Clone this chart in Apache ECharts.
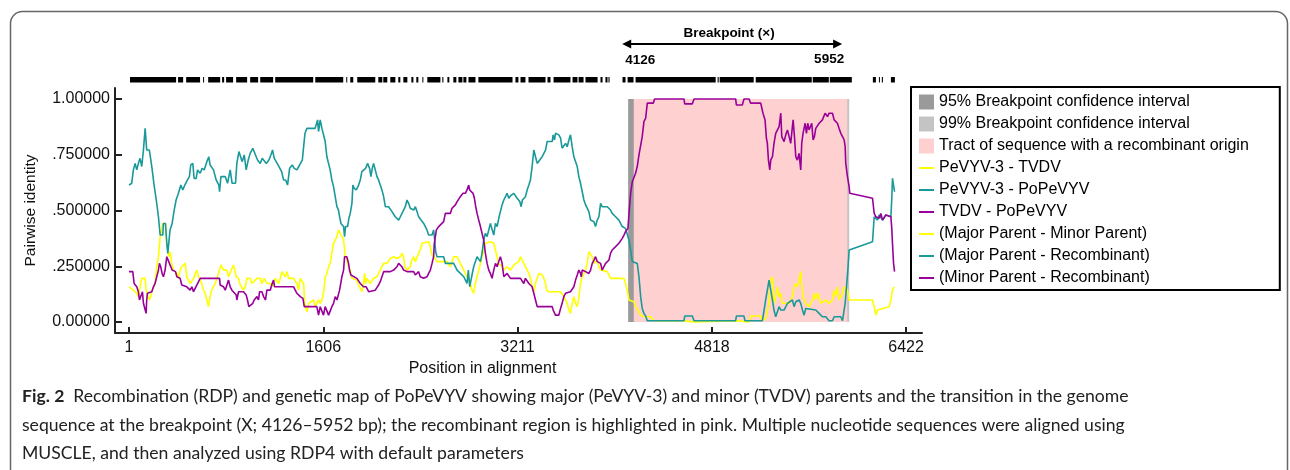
<!DOCTYPE html>
<html>
<head>
<meta charset="utf-8">
<script src="https://cdn.jsdelivr.net/npm/echarts@6/dist/echarts.min.js"></script>
<style>
  html, body { margin: 0; padding: 0; background: #fff; }
  #chart { width: 1290px; height: 470px; }
</style>
</head>
<body>
<div id="chart"></div>
<script>
// pairwise identity along the alignment, [position, identity]
var majorMinor = [[1,0.158],[37,0.143],[65,0.129],[78,0.114],[92,0.158],[106,0.196],[134,0.196],[142,0.143],[153,0.136],[169,0.099],[180,0.114],[192,0.143],[203,0.158],[216,0.173],[230,0.248],[244,0.293],[258,0.383],[271,0.390],[280,0.442],[291,0.450],[302,0.442],[313,0.353],[329,0.293],[340,0.315],[354,0.263],[368,0.233],[382,0.233],[396,0.218],[409,0.196],[423,0.233],[437,0.248],[465,0.263],[478,0.203],[492,0.203],[506,0.173],[520,0.173],[534,0.196],[547,0.196],[561,0.233],[575,0.203],[589,0.196],[602,0.173],[616,0.143],[630,0.129],[644,0.099],[658,0.069],[671,0.114],[685,0.143],[699,0.143],[713,0.173],[727,0.196],[740,0.218],[749,0.233],[760,0.256],[782,0.233],[809,0.233],[823,0.203],[837,0.203],[864,0.256],[878,0.256],[887,0.203],[906,0.196],[920,0.166],[947,0.143],[961,0.158],[975,0.196],[1002,0.196],[1016,0.173],[1030,0.173],[1058,0.196],[1085,0.196],[1099,0.173],[1118,0.196],[1140,0.173],[1168,0.173],[1182,0.158],[1195,0.173],[1209,0.196],[1237,0.173],[1251,0.196],[1264,0.226],[1278,0.226],[1292,0.203],[1306,0.226],[1320,0.196],[1361,0.196],[1388,0.173],[1402,0.143],[1416,0.196],[1444,0.173],[1452,0.084],[1471,0.046],[1485,0.084],[1526,0.099],[1539,0.069],[1553,0.069],[1567,0.099],[1581,0.084],[1595,0.099],[1608,0.129],[1614,0.158],[1622,0.203],[1636,0.218],[1650,0.248],[1663,0.263],[1677,0.308],[1691,0.353],[1705,0.360],[1719,0.383],[1732,0.413],[1746,0.398],[1760,0.383],[1774,0.368],[1788,0.293],[1801,0.278],[1815,0.248],[1829,0.233],[1843,0.196],[1884,0.188],[1898,0.166],[1912,0.151],[1925,0.136],[1939,0.173],[1948,0.218],[1956,0.173],[1967,0.196],[1981,0.196],[1994,0.173],[2008,0.166],[2022,0.196],[2036,0.188],[2050,0.203],[2063,0.211],[2077,0.233],[2091,0.248],[2105,0.263],[2132,0.263],[2160,0.285],[2188,0.293],[2215,0.285],[2243,0.293],[2256,0.308],[2270,0.293],[2279,0.248],[2298,0.233],[2312,0.233],[2325,0.248],[2339,0.278],[2353,0.293],[2367,0.271],[2381,0.278],[2394,0.308],[2408,0.323],[2422,0.353],[2436,0.360],[2477,0.360],[2491,0.338],[2505,0.300],[2532,0.285],[2546,0.271],[2629,0.271],[2656,0.248],[2684,0.293],[2712,0.293],[2739,0.263],[2767,0.233],[2794,0.203],[2822,0.173],[2836,0.143],[2849,0.129],[2863,0.173],[2877,0.203],[2891,0.233],[2905,0.263],[2918,0.293],[2932,0.315],[2946,0.353],[2960,0.360],[2987,0.360],[3015,0.353],[3029,0.323],[3043,0.293],[3056,0.263],[3084,0.248],[3098,0.233],[3125,0.248],[3153,0.233],[3167,0.233],[3181,0.256],[3222,0.271],[3236,0.293],[3250,0.285],[3263,0.263],[3291,0.233],[3305,0.218],[3318,0.196],[3332,0.158],[3346,0.136],[3360,0.173],[3374,0.196],[3387,0.218],[3401,0.226],[3415,0.211],[3429,0.196],[3443,0.173],[3451,0.143],[3470,0.136],[3567,0.136],[3580,0.129],[3594,0.114],[3608,0.099],[3622,0.084],[3636,0.054],[3649,0.039],[3663,0.084],[3677,0.114],[3691,0.084],[3705,0.069],[3718,0.106],[3732,0.173],[3746,0.203],[3760,0.218],[3774,0.233],[3787,0.263],[3801,0.315],[3815,0.323],[3829,0.293],[3843,0.263],[3856,0.271],[3870,0.278],[3884,0.248],[3898,0.233],[3953,0.226],[3980,0.196],[4091,0.196],[4104,0.173],[4118,0.143],[4132,0.099],[4173,0.091],[4187,0.069],[4201,0.061],[4215,0.046],[4229,0.031],[4256,0.024],[4311,0.024],[4339,0.006],[4587,0.006],[4601,0.001],[4656,0.001],[4670,0.006],[5028,0.006],[5042,0.001],[5125,0.001],[5138,0.027],[5221,0.027],[5235,0.006],[5262,0.016],[5290,0.084],[5304,0.188],[5318,0.203],[5331,0.084],[5345,0.114],[5359,0.158],[5373,0.114],[5387,0.129],[5400,0.084],[5456,0.084],[5483,0.114],[5497,0.158],[5511,0.173],[5524,0.158],[5538,0.188],[5552,0.226],[5560,0.173],[5571,0.114],[5593,0.084],[5621,0.069],[5648,0.099],[5662,0.129],[5676,0.099],[5690,0.129],[5704,0.114],[5717,0.084],[5731,0.084],[5759,0.099],[5786,0.084],[5814,0.099],[5828,0.143],[5842,0.114],[5855,0.158],[5869,0.099],[5897,0.129],[5911,0.158],[5938,0.143],[5952,0.099],[6145,0.099],[6159,0.069],[6173,0.031],[6186,0.054],[6283,0.069],[6297,0.099],[6310,0.143],[6324,0.158]];

var majorRecomb = [[1,0.614],[23,0.622],[37,0.682],[51,0.711],[65,0.682],[78,0.711],[92,0.734],[106,0.697],[120,0.771],[134,0.868],[142,0.868],[147,0.771],[169,0.771],[189,0.697],[208,0.614],[230,0.532],[244,0.472],[258,0.390],[280,0.390],[285,0.442],[302,0.442],[313,0.353],[321,0.308],[329,0.353],[340,0.413],[357,0.442],[374,0.502],[390,0.547],[409,0.577],[429,0.614],[445,0.592],[462,0.614],[484,0.637],[500,0.652],[511,0.704],[528,0.711],[539,0.644],[556,0.644],[567,0.682],[589,0.667],[605,0.689],[622,0.682],[644,0.719],[660,0.741],[671,0.704],[699,0.682],[721,0.637],[743,0.614],[749,0.584],[760,0.652],[796,0.652],[815,0.622],[837,0.682],[853,0.622],[881,0.622],[892,0.711],[909,0.764],[925,0.771],[936,0.719],[953,0.749],[969,0.682],[986,0.726],[1002,0.756],[1024,0.779],[1046,0.749],[1063,0.726],[1085,0.711],[1102,0.734],[1118,0.741],[1135,0.711],[1157,0.726],[1173,0.749],[1187,0.771],[1201,0.734],[1217,0.719],[1240,0.697],[1262,0.674],[1278,0.637],[1295,0.637],[1311,0.614],[1328,0.689],[1350,0.704],[1366,0.689],[1388,0.682],[1411,0.704],[1433,0.726],[1444,0.786],[1455,0.846],[1471,0.868],[1539,0.868],[1559,0.906],[1567,0.854],[1581,0.906],[1595,0.868],[1608,0.861],[1622,0.809],[1636,0.741],[1650,0.734],[1663,0.682],[1677,0.637],[1691,0.607],[1705,0.562],[1719,0.517],[1732,0.502],[1741,0.472],[1752,0.442],[1760,0.450],[1774,0.428],[1782,0.383],[1790,0.428],[1807,0.428],[1818,0.465],[1829,0.487],[1843,0.532],[1851,0.614],[1862,0.599],[1879,0.592],[1898,0.614],[1912,0.637],[1925,0.674],[1939,0.682],[1956,0.689],[1972,0.711],[1989,0.689],[2000,0.652],[2011,0.689],[2022,0.711],[2036,0.682],[2050,0.652],[2063,0.637],[2077,0.614],[2091,0.592],[2105,0.562],[2119,0.517],[2146,0.517],[2174,0.495],[2201,0.472],[2229,0.457],[2243,0.472],[2270,0.502],[2284,0.517],[2298,0.547],[2312,0.532],[2325,0.510],[2339,0.517],[2353,0.502],[2367,0.517],[2381,0.495],[2394,0.472],[2408,0.465],[2436,0.442],[2463,0.413],[2477,0.390],[2505,0.390],[2518,0.413],[2527,0.368],[2535,0.315],[2546,0.293],[2601,0.293],[2615,0.263],[2684,0.263],[2712,0.233],[2767,0.203],[2794,0.173],[2805,0.233],[2816,0.158],[2827,0.188],[2849,0.248],[2877,0.293],[2891,0.293],[2905,0.271],[2918,0.308],[2932,0.368],[2946,0.398],[2960,0.383],[2974,0.383],[2987,0.442],[3001,0.450],[3015,0.390],[3029,0.442],[3043,0.428],[3059,0.472],[3070,0.472],[3084,0.525],[3098,0.547],[3111,0.555],[3125,0.577],[3139,0.555],[3153,0.565],[3167,0.562],[3181,0.577],[3208,0.555],[3230,0.540],[3241,0.517],[3252,0.547],[3277,0.562],[3291,0.592],[3305,0.614],[3318,0.637],[3332,0.697],[3346,0.771],[3360,0.741],[3374,0.711],[3387,0.711],[3415,0.741],[3429,0.756],[3443,0.771],[3456,0.809],[3498,0.809],[3506,0.839],[3517,0.816],[3525,0.846],[3553,0.839],[3567,0.824],[3580,0.779],[3594,0.779],[3608,0.801],[3622,0.786],[3636,0.816],[3649,0.839],[3663,0.786],[3677,0.741],[3691,0.741],[3705,0.697],[3718,0.652],[3732,0.622],[3746,0.614],[3760,0.547],[3774,0.525],[3787,0.517],[3801,0.495],[3815,0.457],[3843,0.450],[3856,0.428],[3870,0.457],[3884,0.472],[3898,0.532],[3911,0.517],[3953,0.517],[3980,0.502],[3994,0.487],[4022,0.472],[4049,0.457],[4077,0.428],[4104,0.420],[4118,0.413],[4132,0.368],[4146,0.323],[4160,0.271],[4173,0.263],[4201,0.263],[4215,0.203],[4229,0.114],[4242,0.061],[4256,0.039],[4270,0.027],[4284,0.006],[4587,0.006],[4593,0.027],[4656,0.027],[4670,0.006],[5014,0.006],[5020,0.027],[5083,0.027],[5091,0.006],[5235,0.006],[5249,0.054],[5262,0.099],[5276,0.143],[5290,0.188],[5304,0.143],[5318,0.099],[5331,0.054],[5345,0.024],[5359,0.024],[5373,0.069],[5387,0.054],[5414,0.054],[5442,0.084],[5456,0.091],[5483,0.099],[5497,0.069],[5511,0.091],[5538,0.099],[5552,0.084],[5566,0.054],[5580,0.031],[5593,0.061],[5676,0.054],[5704,0.039],[5731,0.024],[5759,0.024],[5786,0.006],[5814,0.006],[5828,0.024],[5883,0.024],[5897,0.006],[5911,0.006],[5919,0.084],[5930,0.158],[5941,0.233],[5952,0.323],[5966,0.330],[6145,0.360],[6159,0.472],[6186,0.457],[6200,0.480],[6228,0.457],[6255,0.480],[6297,0.472],[6305,0.562],[6310,0.644],[6319,0.614],[6327,0.584]];

var minorRecomb = [[1,0.226],[32,0.226],[43,0.173],[65,0.158],[78,0.136],[87,0.099],[98,0.099],[112,0.136],[120,0.084],[134,0.076],[142,0.039],[147,0.099],[153,0.129],[169,0.129],[189,0.136],[203,0.158],[216,0.173],[230,0.203],[244,0.233],[252,0.263],[263,0.248],[274,0.218],[285,0.203],[299,0.233],[313,0.293],[327,0.285],[335,0.263],[346,0.263],[357,0.233],[385,0.226],[396,0.203],[423,0.196],[437,0.166],[451,0.158],[478,0.158],[506,0.143],[520,0.158],[534,0.136],[547,0.136],[561,0.166],[575,0.158],[589,0.196],[749,0.196],[754,0.166],[782,0.158],[796,0.143],[809,0.151],[823,0.188],[837,0.158],[851,0.143],[864,0.136],[887,0.121],[892,0.099],[906,0.136],[947,0.136],[969,0.121],[980,0.099],[991,0.069],[1002,0.069],[1024,0.084],[1035,0.099],[1058,0.114],[1071,0.099],[1080,0.136],[1099,0.136],[1113,0.114],[1129,0.099],[1140,0.143],[1168,0.143],[1184,0.173],[1195,0.188],[1204,0.158],[1361,0.158],[1388,0.129],[1416,0.114],[1438,0.106],[1449,0.069],[1553,0.069],[1567,0.031],[1581,0.069],[1595,0.069],[1608,0.031],[1622,0.069],[1636,0.069],[1650,0.031],[1663,0.031],[1677,0.069],[1691,0.084],[1705,0.114],[1719,0.099],[1732,0.099],[1741,0.143],[1760,0.203],[1774,0.233],[1782,0.293],[1801,0.293],[1815,0.263],[1823,0.233],[1834,0.211],[1884,0.196],[1912,0.173],[1939,0.158],[1961,0.158],[1981,0.136],[2036,0.143],[2050,0.151],[2063,0.166],[2077,0.181],[2105,0.226],[2160,0.226],[2188,0.233],[2215,0.248],[2229,0.263],[2243,0.263],[2256,0.248],[2270,0.233],[2298,0.226],[2353,0.226],[2367,0.211],[2381,0.203],[2394,0.226],[2408,0.203],[2436,0.196],[2463,0.203],[2477,0.218],[2491,0.233],[2505,0.263],[2518,0.293],[2524,0.353],[2541,0.413],[2560,0.428],[2601,0.450],[2615,0.487],[2656,0.487],[2670,0.510],[2698,0.525],[2712,0.540],[2739,0.562],[2761,0.577],[2780,0.577],[2794,0.592],[2808,0.614],[2816,0.592],[2822,0.584],[2844,0.577],[2855,0.555],[2866,0.517],[2877,0.487],[2891,0.457],[2905,0.428],[2918,0.398],[2932,0.368],[2946,0.308],[2960,0.263],[2974,0.233],[2987,0.218],[3001,0.196],[3015,0.233],[3029,0.263],[3043,0.248],[3056,0.271],[3070,0.293],[3084,0.263],[3098,0.203],[3111,0.203],[3125,0.218],[3153,0.196],[3236,0.196],[3250,0.188],[3263,0.173],[3277,0.196],[3291,0.196],[3305,0.173],[3318,0.166],[3332,0.158],[3346,0.129],[3360,0.099],[3374,0.069],[3498,0.069],[3506,0.054],[3525,0.031],[3553,0.031],[3567,0.061],[3580,0.084],[3594,0.114],[3608,0.129],[3649,0.136],[3663,0.143],[3677,0.158],[3691,0.188],[3705,0.211],[3718,0.233],[3732,0.218],[3738,0.203],[3746,0.233],[3774,0.226],[3787,0.233],[3801,0.218],[3815,0.233],[3829,0.263],[3843,0.278],[3856,0.293],[3870,0.271],[3884,0.263],[3898,0.263],[3911,0.233],[3939,0.263],[3953,0.263],[3967,0.278],[3980,0.308],[3994,0.323],[4022,0.338],[4049,0.353],[4077,0.375],[4091,0.390],[4104,0.405],[4124,0.420],[4135,0.502],[4146,0.577],[4160,0.629],[4187,0.667],[4201,0.697],[4215,0.749],[4242,0.831],[4256,0.898],[4270,0.913],[4284,0.981],[4333,0.981],[4344,1.0],[4587,1.0],[4593,0.978],[4656,0.978],[4670,1.0],[5014,1.0],[5020,0.973],[5069,0.973],[5083,1.0],[5125,1.0],[5138,0.981],[5221,0.981],[5240,0.936],[5257,0.906],[5268,0.824],[5276,0.801],[5285,0.726],[5296,0.682],[5304,0.726],[5318,0.741],[5331,0.801],[5345,0.846],[5359,0.854],[5373,0.876],[5387,0.936],[5395,0.831],[5414,0.809],[5428,0.839],[5442,0.861],[5456,0.831],[5469,0.801],[5483,0.876],[5489,0.906],[5500,0.831],[5511,0.741],[5524,0.726],[5538,0.756],[5552,0.682],[5560,0.801],[5571,0.846],[5588,0.891],[5599,0.846],[5610,0.891],[5621,0.861],[5643,0.891],[5654,0.816],[5665,0.831],[5676,0.868],[5704,0.891],[5731,0.906],[5753,0.936],[5773,0.921],[5786,0.936],[5814,0.936],[5828,0.906],[5855,0.891],[5869,0.868],[5883,0.846],[5897,0.831],[5911,0.816],[5919,0.786],[5924,0.711],[5938,0.652],[5952,0.607],[5957,0.577],[6145,0.555],[6159,0.487],[6173,0.472],[6200,0.465],[6214,0.487],[6228,0.457],[6255,0.480],[6297,0.472],[6305,0.413],[6310,0.353],[6319,0.263],[6327,0.226]];

// shaded intervals, [start, end]
var ci95 = [[4126, 4172]];
var ci99 = [[5936, 5952]];
var tract = [[4126, 5952]];
var breakpoint = [[4126, 5952]];

// black site map above the plot, [start, end]
var siteBlocks = [[9,390],[406,448],[473,588],[613,621],[655,754],[770,787],[803,861],[886,977],[1002,1068],[1085,1192],[1209,1523],[1540,1771],[1796,1804],[1829,1854],[1887,2036],[2061,2094],[2102,2135],[2160,2202],[2226,2243],[2268,2301],[2334,2351],[2375,2392],[2425,2433],[2466,2574],[2590,2599],[2632,2648],[2681,2706],[2723,2756],[2764,2789],[2806,2864],[2888,3170],[3194,3219],[3236,3277],[3302,3443],[3459,3484],[3509,3649],[3666,3707],[3716,3757],[3773,3873],[3897,3914],[3938,3955],[3963,3972],[4079,4104],[4121,4170],[4187,4849],[4865,4874],[4882,5163],[5180,5643],[5651,5784],[5792,5974],[6148,6173],[6198,6206],[6222,6231],[6297,6330]];

var xTicks = [1, 1606, 3211, 4818, 6422];
var yTicks = [0, 0.25, 0.5, 0.75, 1];
var yTickLabels = ['0.00000', '.250000', '.500000', '.750000', '1.00000'];

var captionLines = [
  'Recombination (RDP) and genetic map of PoPeVYV showing major (PeVYV-3) and minor (TVDV) parents and the transition in the genome',
  'sequence at the breakpoint (X; 4126\u20135952 bp); the recombinant region is highlighted in pink. Multiple nucleotide sequences were aligned using',
  'MUSCLE, and then analyzed using RDP4 with default parameters'
];

var YELLOW = '#ffff00', TEAL = '#199999', PURPLE = '#990099';
var FONT = 'Liberation Sans, Arial, sans-serif';
var CAP_FONT = 'Lato, Noto Sans, sans-serif';

function bandItem(color) {
  return function (params, api) {
    var a = api.coord([api.value(0), 1]);
    var b = api.coord([api.value(1), 0]);
    return { type: 'rect', shape: { x: a[0], y: a[1], width: b[0] - a[0], height: b[1] - a[1] }, style: { fill: color } };
  };
}

function blockItem(params, api) {
  var top = params.coordSys.y;
  var a = api.coord([api.value(0), 0]);
  var b = api.coord([api.value(1), 0]);
  return { type: 'rect', shape: { x: a[0], y: top - 11, width: Math.max(b[0] - a[0], 1), height: 5.5 }, style: { fill: '#000' } };
}

function arrowItem(params, api) {
  var top = params.coordSys.y;
  var x0 = api.coord([api.value(0), 0])[0];
  var x1 = api.coord([api.value(1), 0])[0];
  var l = x0 - 6, r = x1 - 7, y = top - 44;
  return {
    type: 'group',
    children: [
      { type: 'line', shape: { x1: l + 4, y1: y, x2: r - 4, y2: y }, style: { stroke: '#000', lineWidth: 2 } },
      { type: 'polygon', shape: { points: [[l, y], [l + 9, y - 4.5], [l + 9, y + 4.5]] }, style: { fill: '#000' } },
      { type: 'polygon', shape: { points: [[r, y], [r - 9, y - 4.5], [r - 9, y + 4.5]] }, style: { fill: '#000' } },
      { type: 'text', x: (l + r) / 2 - 3, y: top - 55, style: { text: 'Breakpoint (\u00d7)', font: 'bold 13.5px ' + FONT, fill: '#000', align: 'center', verticalAlign: 'middle' } },
      { type: 'text', x: l + 3, y: top - 28, style: { text: String(api.value(0)), font: 'bold 13.5px ' + FONT, fill: '#000', align: 'left', verticalAlign: 'middle' } },
      { type: 'text', x: r + 2, y: top - 29, style: { text: String(api.value(1)), font: 'bold 13.5px ' + FONT, fill: '#000', align: 'right', verticalAlign: 'middle' } }
    ]
  };
}

function lineSeries(name, color, data) {
  return {
    name: name, type: 'line', data: data, showSymbol: false, symbol: 'none',
    lineStyle: { color: color, width: 1.6 }, itemStyle: { color: color },
    z: 3, silent: true
  };
}

// legend entry for a line: plain stroke, no marker
function lineKey(name) {
  return { name: name, itemStyle: { opacity: 0 }, lineStyle: { width: 2 } };
}

var chart = echarts.init(document.getElementById('chart'));
var option = {
  animation: false,
  backgroundColor: '#fff',
  grid: { left: 115, top: 88, width: 807, height: 245 },
  xAxis: {
    type: 'value', min: -115, max: 6554,
    name: 'Position in alignment', nameLocation: 'middle', nameGap: 27,
    nameTextStyle: { fontFamily: FONT, fontSize: 16, color: '#111', padding: [0, 72, 0, 0] },
    axisLine: { show: true, onZero: false, lineStyle: { color: '#222', width: 2 } },
    axisTick: { show: true, inside: true, length: 6, customValues: xTicks, lineStyle: { color: '#222', width: 2 } },
    axisLabel: { customValues: xTicks, fontFamily: FONT, fontSize: 16, color: '#111', margin: 7,
      formatter: function (v) { return String(v); } },
    splitLine: { show: false }
  },
  yAxis: {
    type: 'value', min: -0.049, max: 1.049,
    name: 'Pairwise identity', nameLocation: 'middle', nameGap: 76,
    nameTextStyle: { fontFamily: FONT, fontSize: 15.5, color: '#111' },
    axisLine: { show: true, onZero: false, lineStyle: { color: '#222', width: 2 } },
    axisTick: { show: true, inside: true, length: 7, customValues: yTicks, lineStyle: { color: '#222', width: 2 } },
    axisLabel: {
      customValues: yTicks, fontFamily: FONT, fontSize: 16, color: '#111', margin: 5,
      formatter: function (v) { return yTickLabels[yTicks.indexOf(v)]; }
    },
    splitLine: { show: false }
  },
  legend: {
    orient: 'vertical', left: 911, top: 87,
    padding: [7, 31, 4, 7], itemGap: 6, itemWidth: 15, itemHeight: 15,
    borderColor: '#000', borderWidth: 2, backgroundColor: '#fff',
    selectedMode: false,
    textStyle: { fontFamily: FONT, fontSize: 16, color: '#000' },
    data: [
      { name: '95% Breakpoint confidence interval', icon: 'rect' },
      { name: '99% Breakpoint confidence interval', icon: 'rect' },
      { name: 'Tract of sequence with a recombinant origin', icon: 'rect' },
      lineKey('PeVYV-3 - TVDV'), lineKey('PeVYV-3 - PoPeVYV'), lineKey('TVDV - PoPeVYV'),
      lineKey('(Major Parent - Minor Parent)'), lineKey('(Major Parent - Recombinant)'), lineKey('(Minor Parent - Recombinant)')
    ]
  },
  graphic: [
    { type: 'rect', silent: true, shape: { x: 10.5, y: 11.5, width: 1277, height: 470, r: 12 }, style: { fill: 'none', stroke: '#666', lineWidth: 1.5 } },
    { type: 'text', silent: true, left: 22, top: 387, style: {
      text: '{b|Fig. 2}  ' + captionLines[0],
      font: '17.6px ' + CAP_FONT, fill: '#222',
      rich: { b: { fontFamily: CAP_FONT, fontWeight: 'bold', fontSize: 17.6, fill: '#222' } }
    } },
    { type: 'text', silent: true, left: 22, top: 416, style: { text: captionLines[1], font: '17.6px ' + CAP_FONT, fill: '#222' } },
    { type: 'text', silent: true, left: 22, top: 444, style: { text: captionLines[2], font: '17.6px ' + CAP_FONT, fill: '#222' } }
  ],
  series: [
    { name: 'Tract of sequence with a recombinant origin', type: 'custom', data: tract, encode: { x: [0, 1] },
      renderItem: bandItem('#ffd0d0'), itemStyle: { color: '#ffd0d0' }, z: 1, silent: true },
    { name: '95% Breakpoint confidence interval', type: 'custom', data: ci95, encode: { x: [0, 1] },
      renderItem: bandItem('#9a9a9a'), itemStyle: { color: '#9a9a9a' }, z: 2, silent: true },
    { name: '99% Breakpoint confidence interval', type: 'custom', data: ci99, encode: { x: [0, 1] },
      renderItem: bandItem('#c4c4c4'), itemStyle: { color: '#c4c4c4' }, z: 2, silent: true },
    { name: 'sites', type: 'custom', data: siteBlocks, encode: { x: [0, 1] },
      renderItem: blockItem, clip: false, silent: true, z: 4 },
    { name: 'breakpoint', type: 'custom', data: breakpoint, encode: { x: [0, 1] },
      renderItem: arrowItem, clip: false, silent: true, z: 4 },
    lineSeries('PeVYV-3 - TVDV', YELLOW, majorMinor),
    lineSeries('PeVYV-3 - PoPeVYV', TEAL, majorRecomb),
    lineSeries('TVDV - PoPeVYV', PURPLE, minorRecomb),
    lineSeries('(Major Parent - Minor Parent)', YELLOW, []),
    lineSeries('(Major Parent - Recombinant)', TEAL, []),
    lineSeries('(Minor Parent - Recombinant)', PURPLE, [])
  ]
};
chart.setOption(option);
</script>
</body>
</html>
